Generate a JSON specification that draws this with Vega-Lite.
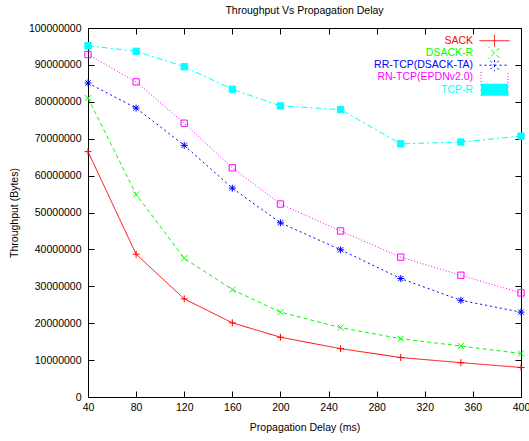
{
  "$schema": "https://vega.github.io/schema/vega-lite/v6.json",
  "autosize": {"type": "none"},
  "padding": {"left": 88, "top": 28, "right": 8, "bottom": 44},
  "width": 433,
  "height": 369,
  "background": "white",
  "title": {"text": "Throughput Vs Propagation Delay", "font": "Liberation Sans", "fontSize": 10.5, "fontWeight": "normal", "color": "black", "anchor": "middle", "offset": 7},
  "config": {
    "view": {"stroke": "black", "strokeWidth": 1},
    "axis": {"grid": false, "domainColor": "black", "tickColor": "black", "labelColor": "black", "titleColor": "black", "labelFont": "Liberation Sans", "titleFont": "Liberation Sans", "labelFontSize": 10.5, "titleFontSize": 10.5, "titleFontWeight": "normal", "tickSize": -6, "labelFlush": false, "labelOverlap": false}
  },
  "data": {"values": [
    {"delay": 40, "series": "SACK", "throughput": 66500000},
    {"delay": 80, "series": "SACK", "throughput": 38700000},
    {"delay": 120, "series": "SACK", "throughput": 26600000},
    {"delay": 160, "series": "SACK", "throughput": 20100000},
    {"delay": 200, "series": "SACK", "throughput": 16200000},
    {"delay": 250, "series": "SACK", "throughput": 13100000},
    {"delay": 300, "series": "SACK", "throughput": 10700000},
    {"delay": 350, "series": "SACK", "throughput": 9300000},
    {"delay": 400, "series": "SACK", "throughput": 8000000},
    {"delay": 40, "series": "DSACK-R", "throughput": 81000000},
    {"delay": 80, "series": "DSACK-R", "throughput": 54900000},
    {"delay": 120, "series": "DSACK-R", "throughput": 37600000},
    {"delay": 160, "series": "DSACK-R", "throughput": 29100000},
    {"delay": 200, "series": "DSACK-R", "throughput": 23000000},
    {"delay": 250, "series": "DSACK-R", "throughput": 18800000},
    {"delay": 300, "series": "DSACK-R", "throughput": 15800000},
    {"delay": 350, "series": "DSACK-R", "throughput": 13800000},
    {"delay": 400, "series": "DSACK-R", "throughput": 11800000},
    {"delay": 40, "series": "RR-TCP(DSACK-TA)", "throughput": 85100000},
    {"delay": 80, "series": "RR-TCP(DSACK-TA)", "throughput": 78300000},
    {"delay": 120, "series": "RR-TCP(DSACK-TA)", "throughput": 68200000},
    {"delay": 160, "series": "RR-TCP(DSACK-TA)", "throughput": 56600000},
    {"delay": 200, "series": "RR-TCP(DSACK-TA)", "throughput": 47200000},
    {"delay": 250, "series": "RR-TCP(DSACK-TA)", "throughput": 39900000},
    {"delay": 300, "series": "RR-TCP(DSACK-TA)", "throughput": 32100000},
    {"delay": 350, "series": "RR-TCP(DSACK-TA)", "throughput": 26200000},
    {"delay": 400, "series": "RR-TCP(DSACK-TA)", "throughput": 23000000},
    {"delay": 40, "series": "RN-TCP(EPDNv2.0)", "throughput": 92800000},
    {"delay": 80, "series": "RN-TCP(EPDNv2.0)", "throughput": 85400000},
    {"delay": 120, "series": "RN-TCP(EPDNv2.0)", "throughput": 74200000},
    {"delay": 160, "series": "RN-TCP(EPDNv2.0)", "throughput": 62100000},
    {"delay": 200, "series": "RN-TCP(EPDNv2.0)", "throughput": 52300000},
    {"delay": 250, "series": "RN-TCP(EPDNv2.0)", "throughput": 45000000},
    {"delay": 300, "series": "RN-TCP(EPDNv2.0)", "throughput": 37900000},
    {"delay": 350, "series": "RN-TCP(EPDNv2.0)", "throughput": 33000000},
    {"delay": 400, "series": "RN-TCP(EPDNv2.0)", "throughput": 28200000},
    {"delay": 40, "series": "TCP-R", "throughput": 95200000},
    {"delay": 80, "series": "TCP-R", "throughput": 93700000},
    {"delay": 120, "series": "TCP-R", "throughput": 89500000},
    {"delay": 160, "series": "TCP-R", "throughput": 83400000},
    {"delay": 200, "series": "TCP-R", "throughput": 78900000},
    {"delay": 250, "series": "TCP-R", "throughput": 77900000},
    {"delay": 300, "series": "TCP-R", "throughput": 68600000},
    {"delay": 350, "series": "TCP-R", "throughput": 69100000},
    {"delay": 400, "series": "TCP-R", "throughput": 70700000}
  ]},
  "resolve": {"axis": {"x": "independent", "y": "independent"}},
  "layer": [
    {
      "mark": {"type": "line", "strokeWidth": 1},
      "encoding": {
        "x": {"field": "delay", "type": "quantitative", "scale": {"domain": [40, 400], "nice": false, "zero": false},
              "axis": {"orient": "bottom", "title": "Propagation Delay (ms)", "values": [40, 80, 120, 160, 200, 240, 280, 320, 360, 400], "labelPadding": 11, "titlePadding": 10}},
        "y": {"field": "throughput", "type": "quantitative", "scale": {"domain": [0, 100000000], "nice": false, "zero": true},
              "axis": {"orient": "left", "title": "Throughput (Bytes)", "format": "d", "values": [0, 10000000, 20000000, 30000000, 40000000, 50000000, 60000000, 70000000, 80000000, 90000000, 100000000], "labelPadding": 13, "titlePadding": 9}},
        "color": {"field": "series", "type": "nominal",
                  "scale": {"domain": ["SACK", "DSACK-R", "RR-TCP(DSACK-TA)", "RN-TCP(EPDNv2.0)", "TCP-R"], "range": ["#ff0000", "#00ff00", "#0000ff", "#ff00ff", "#00ffff"]},
                  "legend": {"title": null, "orient": "none", "legendX": 391, "legendY": 6.7, "padding": 0, "clipHeight": 12, "rowPadding": 0.25,
                             "symbolType": "stroke", "symbolSize": 900, "symbolOffset": 0, "symbolStrokeWidth": 1, "labelFont": "Liberation Sans", "labelFontSize": 10.5, "labelLimit": 0,
                             "encode": {
                               "labels": {"update": {"text": {"signal": "datum.label + '\u00a0\u00a0\u00a0\u00a0\u00a0\u00a0\u00a0\u00a0\u00a0\u00a0\u00a0\u00a0\u00a0\u200b'"}, "fill": {"scale": "color", "field": "value"}, "x": {"value": 32}, "align": {"value": "right"}}},
                               "symbols": {"update": {
                                 "shape": {"signal": "datum.value === 'SACK' ? 'M-1,0H1M0,-0.233V0.233' : datum.value === 'DSACK-R' ? 'M-1,0H-0.733M-0.533,0H-0.267M-0.067,0H0.2M0.4,0H0.667M0.867,0H1M-0.2,-0.2L0.2,0.2M-0.2,0.2L0.2,-0.2' : datum.value === 'RR-TCP(DSACK-TA)' ? 'M-1,0H-0.867M-0.667,0H-0.533M-0.333,0H-0.2M0,0H0.133M0.333,0H0.467M0.667,0H0.8M-0.233,0H0.233M0,-0.233V0.233M-0.175,-0.175L0.175,0.175M-0.175,0.175L0.175,-0.175' : datum.value === 'RN-TCP(EPDNv2.0)' ? 'M-1,0H-0.933M-0.8,0H-0.733M-0.6,0H-0.533M-0.4,0H-0.333M-0.2,0H-0.133M0,0H0.067M0.2,0H0.267M0.4,0H0.467M0.6,0H0.667M0.8,0H0.867M-0.21,-0.21H0.21V0.21H-0.21Z' : 'M-1,0H-0.6M-0.4,0H-0.267M-0.067,0H0.333M0.533,0H0.667M0.867,0H1M-0.21,-0.21H0.21V0.21H-0.21Z'"},
                                 "fill": {"value": "transparent"},
                                 "stroke": {"scale": "color", "field": "value"},
                                 "strokeDash": {"value": [1, 0]},
                                 "strokeWidth": {"value": 1},
                                 "opacity": {"value": 1},
                                 "size": {"value": 900}
                               }}
                             }}},
        "strokeDash": {"field": "series", "type": "nominal",
                       "scale": {"domain": ["SACK", "DSACK-R", "RR-TCP(DSACK-TA)", "RN-TCP(EPDNv2.0)", "TCP-R"], "range": [[1, 0], [4, 3], [2, 3], [1, 2], [6, 3, 2, 3]]},
                       "legend": {"title": null, "orient": "none", "legendX": 391, "legendY": 6.7, "padding": 0, "clipHeight": 12, "rowPadding": 0.25,
                             "symbolType": "stroke", "symbolSize": 900, "symbolOffset": 0, "symbolStrokeWidth": 1, "labelFont": "Liberation Sans", "labelFontSize": 10.5, "labelLimit": 0,
                             "encode": {
                               "labels": {"update": {"text": {"signal": "datum.label + '\u00a0\u00a0\u00a0\u00a0\u00a0\u00a0\u00a0\u00a0\u00a0\u00a0\u00a0\u00a0\u00a0\u200b'"}, "fill": {"scale": "color", "field": "value"}, "x": {"value": 32}, "align": {"value": "right"}}},
                               "symbols": {"update": {
                                 "shape": {"signal": "datum.value === 'SACK' ? 'M-1,0H1M0,-0.233V0.233' : datum.value === 'DSACK-R' ? 'M-1,0H-0.733M-0.533,0H-0.267M-0.067,0H0.2M0.4,0H0.667M0.867,0H1M-0.2,-0.2L0.2,0.2M-0.2,0.2L0.2,-0.2' : datum.value === 'RR-TCP(DSACK-TA)' ? 'M-1,0H-0.867M-0.667,0H-0.533M-0.333,0H-0.2M0,0H0.133M0.333,0H0.467M0.667,0H0.8M-0.233,0H0.233M0,-0.233V0.233M-0.175,-0.175L0.175,0.175M-0.175,0.175L0.175,-0.175' : datum.value === 'RN-TCP(EPDNv2.0)' ? 'M-1,0H-0.933M-0.8,0H-0.733M-0.6,0H-0.533M-0.4,0H-0.333M-0.2,0H-0.133M0,0H0.067M0.2,0H0.267M0.4,0H0.467M0.6,0H0.667M0.8,0H0.867M-0.21,-0.21H0.21V0.21H-0.21Z' : 'M-1,0H-0.6M-0.4,0H-0.267M-0.067,0H0.333M0.533,0H0.667M0.867,0H1M-0.21,-0.21H0.21V0.21H-0.21Z'"},
                                 "fill": {"value": "transparent"},
                                 "stroke": {"scale": "color", "field": "value"},
                                 "strokeDash": {"value": [1, 0]},
                                 "strokeWidth": {"value": 1},
                                 "opacity": {"value": 1},
                                 "size": {"value": 900}
                               }}
                             }}}
      }
    },
    {
      "mark": {"type": "point", "strokeWidth": 1, "size": 49, "opacity": 1},
      "encoding": {
        "x": {"field": "delay", "type": "quantitative", "axis": {"orient": "top", "labels": false, "title": null, "domain": true, "values": [40, 80, 120, 160, 200, 240, 280, 320, 360, 400]}},
        "y": {"field": "throughput", "type": "quantitative", "axis": {"orient": "right", "labels": false, "title": null, "domain": true, "values": [0, 10000000, 20000000, 30000000, 40000000, 50000000, 60000000, 70000000, 80000000, 90000000, 100000000]}},
        "shape": {"field": "series", "type": "nominal",
                  "scale": {"domain": ["SACK", "DSACK-R", "RR-TCP(DSACK-TA)", "RN-TCP(EPDNv2.0)", "TCP-R"],
                            "range": ["M-1,0H1M0,-1V1", "M-0.85,-0.85L0.85,0.85M-0.85,0.85L0.85,-0.85", "M-1,0H1M0,-1V1M-0.75,-0.75L0.75,0.75M-0.75,0.75L0.75,-0.75", "M-0.9,-0.9H0.9V0.9H-0.9Z", "M-0.9,-0.9H0.9V0.9H-0.9Z"]},
                  "legend": null},
        "stroke": {"field": "series", "type": "nominal",
                   "scale": {"domain": ["SACK", "DSACK-R", "RR-TCP(DSACK-TA)", "RN-TCP(EPDNv2.0)", "TCP-R"], "range": ["#ff0000", "#00ff00", "#0000ff", "#ff00ff", "#00ffff"]},
                   "legend": null},
        "fill": {"field": "series", "type": "nominal",
                 "scale": {"domain": ["SACK", "DSACK-R", "RR-TCP(DSACK-TA)", "RN-TCP(EPDNv2.0)", "TCP-R"], "range": ["transparent", "transparent", "transparent", "transparent", "#00ffff"]},
                 "legend": null}
      }
    }
  ]
}
